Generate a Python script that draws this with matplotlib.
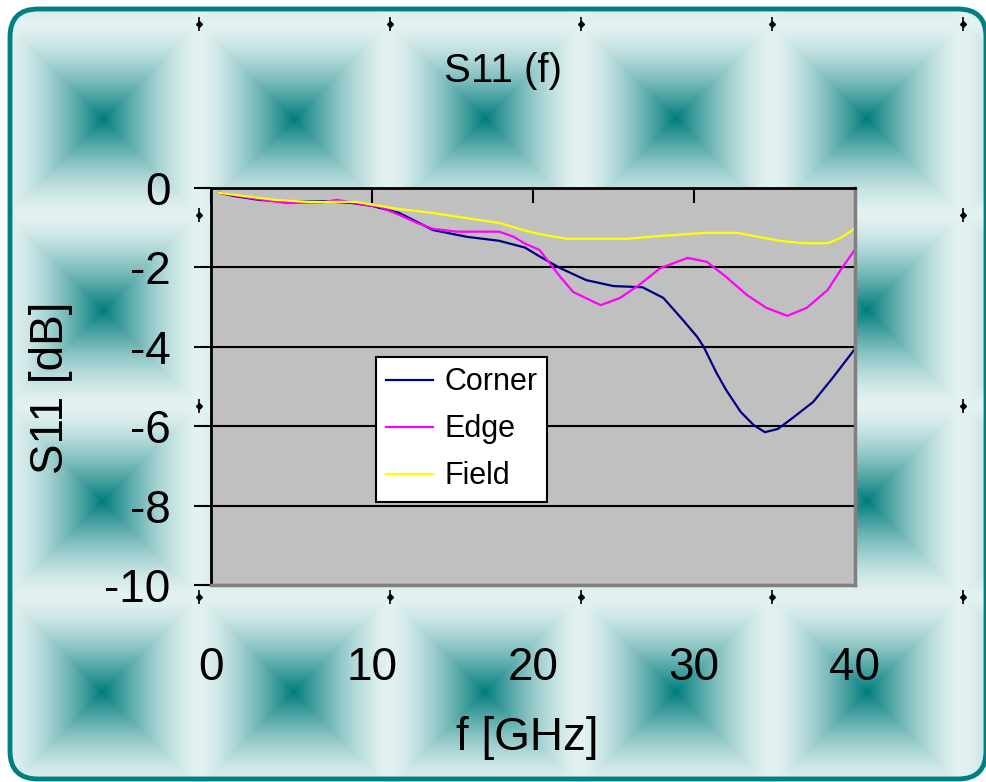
import numpy as np
import matplotlib
matplotlib.use("Agg")
import matplotlib.pyplot as plt
from matplotlib.patches import FancyBboxPatch

plt.rcParams['font.family'] = ['Liberation Sans', 'DejaVu Sans']

# --- данные ---
corner_f = [0.5, 1.4, 3.0, 5.0, 7.0, 8.8, 10.0, 11.7, 13.8, 15.9, 17.9, 19.5, 20.4,
            21.7, 23.3, 25.0, 26.8, 28.1, 29.3, 30.2, 30.6, 31.4, 32.0, 32.9, 33.7,
            34.4, 35.2, 36.1, 37.4, 38.6, 40.0]
corner_db = [-0.12, -0.2, -0.3, -0.35, -0.33, -0.38, -0.45, -0.63, -1.06, -1.23, -1.33,
             -1.5, -1.72, -2.02, -2.32, -2.47, -2.5, -2.77, -3.32, -3.75, -4.0, -4.66,
             -5.09, -5.64, -5.97, -6.15, -6.07, -5.8, -5.39, -4.79, -4.05]

edge_f = [0.5, 2.4, 4.7, 7.0, 7.8, 9.0, 10.5, 11.7, 12.8, 13.8, 15.3, 17.9, 18.8, 19.5,
          20.4, 21.7, 22.5, 24.2, 25.4, 26.6, 27.9, 29.6, 30.8, 32.0, 33.3, 34.5, 35.8,
          37.0, 38.3, 39.1, 40.0]
edge_db = [-0.12, -0.25, -0.38, -0.36, -0.3, -0.38, -0.48, -0.68, -0.88, -1.03, -1.1,
           -1.1, -1.23, -1.4, -1.56, -2.24, -2.62, -2.95, -2.77, -2.44, -2.02, -1.76,
           -1.86, -2.24, -2.7, -3.02, -3.22, -3.02, -2.57, -2.07, -1.55]

field_f = [0.5, 2.0, 4.0, 6.0, 9.0, 10.0, 11.7, 13.8, 15.9, 17.9, 19.5, 20.4, 22.1,
           25.8, 27.9, 30.6, 32.7, 35.3, 36.8, 38.3, 39.1, 40.0]
field_db = [-0.12, -0.2, -0.3, -0.35, -0.35, -0.42, -0.53, -0.63, -0.76, -0.88, -1.07,
            -1.16, -1.28, -1.28, -1.21, -1.13, -1.13, -1.33, -1.39, -1.39, -1.26, -1.02]

x_ticks = [0, 10, 20, 30, 40]
y_ticks = [0, -2, -4, -6, -8, -10]

W, H = 987, 782
fig = plt.figure(figsize=(W / 100, H / 100), dpi=100)

# --- фон: плитка с "пирамидами" ---
bg = fig.add_axes([0, 0, 1, 1])
bg.set_xlim(0, W)
bg.set_ylim(H, 0)
bg.axis('off')

tile = 191.0
yy, xx = np.mgrid[0:H, 0:W] + 0.5
dx = ((xx - 103 + tile / 2) % tile) - tile / 2
dy = ((yy - 119 + tile / 2) % tile) - tile / 2
d = np.maximum(np.abs(dx), np.abs(dy)) / (tile / 2)
w = np.clip(1 - d, 0, 1) ** 1.5
light = np.array([228, 242, 242]) / 255
dark = np.array([0, 124, 124]) / 255
img = light[None, None, :] * (1 - w[..., None]) + dark[None, None, :] * w[..., None]

im = bg.imshow(img, extent=(0, W, H, 0), interpolation='bilinear', zorder=0)
frame = FancyBboxPatch((10, 9), 976, 770, boxstyle='round,pad=0,rounding_size=28',
                       fc='none', ec='#008080', lw=3.5, zorder=2)
bg.add_patch(frame)
im.set_clip_path(frame)

# маленькие метки в углах плиток
cx = np.arange(103 - tile / 2, W, tile)
cy = np.arange(119 - tile / 2, H - 10, tile)
mx, my = np.meshgrid(cx[cx > 20], cy[cy > 20])
bg.plot(mx.ravel(), my.ravel(), ls='none', marker='|', ms=10, mew=1.2, color='black', zorder=1)
bg.plot(mx.ravel(), my.ravel(), ls='none', marker='D', ms=3, color='black', zorder=1)

# --- область графика ---
ax = fig.add_axes([211 / W, 1 - 585 / H, 644 / W, 397 / H])
ax.set_facecolor('#C0C0C0')
ax.plot(corner_f, corner_db, color='#000080', lw=1.6, label='Corner')
ax.plot(edge_f, edge_db, color='#FF00FF', lw=1.6, label='Edge')
ax.plot(field_f, field_db, color='#FFFF00', lw=1.6, label='Field')

ax.set_xlim(0, 40)
ax.set_ylim(-10, 0)
ax.set_xticks(x_ticks)
ax.set_yticks(y_ticks)
ax.set_yticklabels([str(v) for v in y_ticks])
ax.yaxis.grid(True, color='black', lw=1.5)
ax.set_axisbelow(True)

ax.tick_params(axis='y', direction='out', length=12, width=1.5, pad=17, labelsize=33)
ax.tick_params(axis='x', direction='in', bottom=False, top=True, labelbottom=True,
               labeltop=False, length=11, width=1.5, pad=44, labelsize=33)

for s in ['left', 'top']:
    ax.spines[s].set_color('black')
    ax.spines[s].set_linewidth(2)
for s in ['right', 'bottom']:
    ax.spines[s].set_color('#808080')
    ax.spines[s].set_linewidth(2.5)

leg = ax.legend(loc='upper left', bbox_to_anchor=(0.256, 0.574), borderaxespad=0,
                fancybox=False, edgecolor='black', framealpha=1, fontsize=22,
                handlelength=1.55, handletextpad=0.35, labelspacing=0.56, borderpad=0.33)
leg.get_frame().set_linewidth(1.5)

fig.text(503 / W, 1 - 71 / H, 'S11 (f)', ha='center', va='center', fontsize=29)
fig.text(51 / W, 1 - 388 / H, 'S11 [dB]', ha='center', va='center', fontsize=33, rotation=90)
fig.text(527 / W, 1 - 738 / H, 'f [GHz]', ha='center', va='center', fontsize=33)

fig.savefig('out.png', dpi=100, facecolor='white')
